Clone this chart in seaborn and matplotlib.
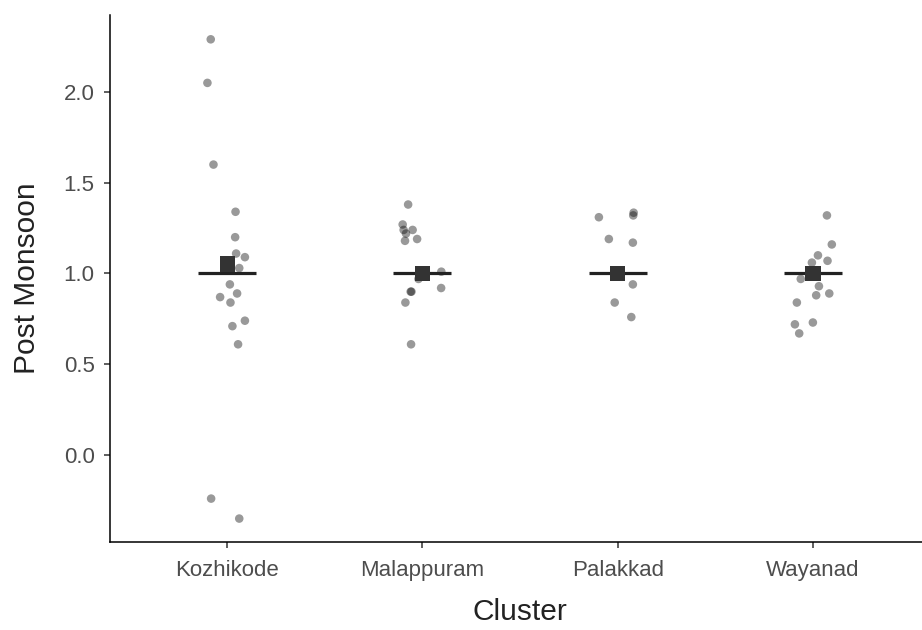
""" Post monsoon values per cluster: jittered points, reference line and mean """

import matplotlib
matplotlib.use('Agg')
import matplotlib.pyplot as plt
import numpy as np
import pandas as pd
import seaborn as sns

CLUSTERS = ['Kozhikode', 'Malappuram', 'Palakkad', 'Wayanad']

KOZHIKODE = [2.29, 2.05, 1.60, 1.34, 1.20, 1.11, 1.09, 1.03, 0.94, 0.89,
             0.87, 0.84, 0.74, 0.71, 0.61, -0.24, -0.35]
MALAPPURAM = [1.38, 1.27, 1.24, 1.24, 1.22, 1.19, 1.18, 1.01, 0.97, 0.92,
              0.90, 0.90, 0.84, 0.61]
PALAKKAD = [1.31, 1.335, 1.32, 1.19, 1.17, 0.94, 0.84, 0.76]
WAYANAD = [1.32, 1.16, 1.10, 1.06, 1.07, 0.97, 0.93, 0.88, 0.89, 0.84,
           0.73, 0.72, 0.67]

# horizontal jitter of each point, in category widths
JITTER = {
    'Kozhikode': [-0.084, -0.101, -0.070, 0.043, 0.041, 0.046, 0.091, 0.062, 0.014,
                  0.051, -0.036, 0.017, 0.091, 0.027, 0.056, -0.082, 0.062],
    'Malappuram': [-0.073, -0.101, -0.096, -0.050, -0.084, -0.027, -0.089, 0.097,
                   -0.020, 0.096, -0.060, -0.056, -0.087, -0.058],
    'Palakkad': [-0.096, 0.082, 0.080, -0.045, 0.078, 0.078, -0.015, 0.070],
    'Wayanad': [0.072, 0.097, 0.026, -0.005, 0.075, -0.062, 0.031, 0.017, 0.084,
                -0.082, 0.0, -0.092, -0.070],
}

REF_LEVEL = [1.0, 1.0, 1.0, 1.0]
CLUSTER_MEANS = [1.052, 1.0, 1.0, 1.0]
Y_TICKS = [0.0, 0.5, 1.0, 1.5, 2.0]

TICK_GREY = '#4d4d4d'


def build_frame():
    rows = []
    for idx, (name, values) in enumerate(zip(CLUSTERS, [KOZHIKODE, MALAPPURAM, PALAKKAD, WAYANAD])):
        for val, jit in zip(values, JITTER[name]):
            rows.append({'cluster': name, 'pos': idx + jit, 'value': val})
    return pd.DataFrame(rows)


def draw():
    sns.set_style('white')
    plt.rcParams['font.family'] = ['Liberation Sans', 'DejaVu Sans']

    df = build_frame()
    summary = pd.DataFrame({'pos': np.arange(len(CLUSTERS)),
                            'ref': REF_LEVEL, 'mean': CLUSTER_MEANS})

    fig = plt.figure(figsize=(9.22, 6.3), dpi=100)
    ax = fig.add_axes([0.1193, 0.1397, 0.8894, 0.8365])

    sns.scatterplot(data=df, x='pos', y='value', color='black', alpha=0.4,
                    s=38, edgecolor='none', ax=ax, zorder=2)
    sns.scatterplot(data=summary, x='pos', y='ref', marker='_', s=42 ** 2,
                    color='#222222', linewidth=2.3, ax=ax, zorder=3)
    sns.scatterplot(data=summary, x='pos', y='mean', marker='s', s=11 ** 2,
                    color='#333333', edgecolor='none', ax=ax, zorder=4)

    ax.set_xlim(-0.6, 3.6)
    ax.set_ylim(-0.479, 2.424)
    ax.set_xticks(range(len(CLUSTERS)))
    ax.set_xticklabels(CLUSTERS)
    ax.set_yticks(Y_TICKS)
    ax.set_yticklabels([f'{t:.1f}' for t in Y_TICKS])

    for side in ['top', 'right']:
        ax.spines[side].set_visible(False)
    for side in ['left', 'bottom']:
        ax.spines[side].set_color('black')
        ax.spines[side].set_linewidth(1.1)

    ax.tick_params(axis='both', bottom=True, left=True, length=4, width=1.1,
                   color='#333333', labelsize=16, labelcolor=TICK_GREY,
                   direction='out')
    ax.tick_params(axis='x', pad=9)
    ax.tick_params(axis='y', pad=7)
    ax.set_xlabel('Cluster', fontsize=21.5, color='#222222', labelpad=12)
    ax.set_ylabel('Post Monsoon', fontsize=21.5, color='#222222', labelpad=16)

    fig.savefig('out.png', dpi=100)


if __name__ == '__main__':
    draw()
